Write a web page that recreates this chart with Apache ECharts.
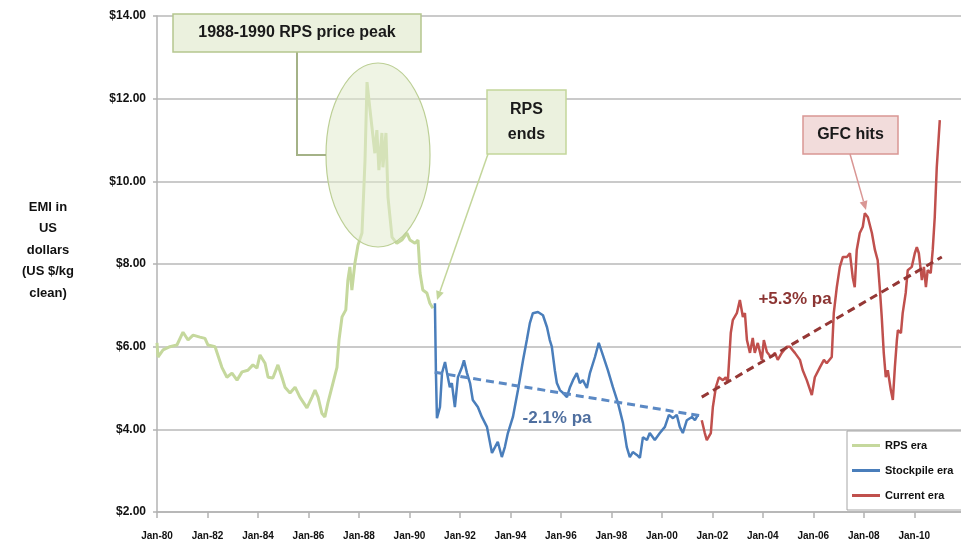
<!DOCTYPE html>
<html>
<head>
<meta charset="utf-8">
<title>EMI in US dollars</title>
<script src="https://cdn.jsdelivr.net/npm/echarts@6/dist/echarts.min.js"></script>
<style>
  html, body { margin: 0; padding: 0; background: #fff; }
  #chart { width: 961px; height: 547px; }
</style>
</head>
<body>
<div id="chart"></div>
<script>
// values: [year, US $/kg clean]
const rpsEra = [
  [1980.00, 6.09], [1980.04, 5.75], [1980.24, 5.92], [1980.51, 6.00], [1980.79, 6.04],
  [1981.03, 6.35], [1981.23, 6.16], [1981.43, 6.28], [1981.70, 6.23], [1981.90, 6.20],
  [1982.02, 6.04], [1982.30, 6.00], [1982.57, 5.50], [1982.77, 5.26], [1982.97, 5.36],
  [1983.17, 5.19], [1983.37, 5.39], [1983.60, 5.43], [1983.80, 5.56], [1983.96, 5.48],
  [1984.08, 5.80], [1984.28, 5.60], [1984.40, 5.26], [1984.59, 5.24], [1984.79, 5.56],
  [1984.95, 5.26], [1985.07, 5.02], [1985.27, 4.88], [1985.47, 5.02], [1985.66, 4.78],
  [1985.94, 4.52], [1986.14, 4.78], [1986.26, 4.95], [1986.38, 4.78], [1986.53, 4.39],
  [1986.65, 4.30], [1986.77, 4.64], [1986.97, 5.12], [1987.13, 5.50], [1987.21, 6.16],
  [1987.33, 6.72], [1987.48, 6.89], [1987.56, 7.60], [1987.64, 7.93], [1987.72, 7.37],
  [1987.84, 8.02], [1987.96, 8.45], [1988.12, 8.75], [1988.24, 10.50], [1988.32, 12.40],
  [1988.44, 11.72], [1988.63, 10.68], [1988.71, 11.24], [1988.79, 10.27], [1988.91, 11.17],
  [1988.95, 10.34], [1989.07, 11.17], [1989.15, 9.62], [1989.31, 8.65], [1989.50, 8.50],
  [1989.70, 8.58], [1989.90, 8.75], [1990.02, 8.58], [1990.22, 8.50], [1990.34, 8.58],
  [1990.42, 7.78], [1990.53, 7.37], [1990.69, 7.30], [1990.81, 7.05], [1990.93, 6.93]
];

const stockpileEra = [
  [1991.01, 7.05], [1991.05, 5.36], [1991.09, 4.27], [1991.21, 4.54], [1991.29, 5.36],
  [1991.41, 5.63], [1991.49, 5.36], [1991.60, 5.02], [1991.68, 5.12], [1991.80, 4.54],
  [1991.92, 5.26], [1992.08, 5.50], [1992.16, 5.67], [1992.28, 5.36], [1992.40, 5.12],
  [1992.51, 4.71], [1992.71, 4.54], [1992.87, 4.30], [1993.07, 4.06], [1993.27, 3.43],
  [1993.39, 3.57], [1993.50, 3.70], [1993.66, 3.33], [1993.78, 3.57], [1993.90, 3.91],
  [1994.10, 4.30], [1994.30, 4.95], [1994.50, 5.67], [1994.65, 6.16], [1994.77, 6.57],
  [1994.89, 6.81], [1995.09, 6.84], [1995.29, 6.76], [1995.45, 6.47], [1995.56, 6.16],
  [1995.64, 6.00], [1995.76, 5.43], [1995.84, 5.12], [1995.96, 4.95], [1996.08, 4.88],
  [1996.24, 4.78], [1996.36, 5.02], [1996.48, 5.19], [1996.63, 5.36], [1996.75, 5.12],
  [1996.87, 5.19], [1997.03, 5.00], [1997.15, 5.36], [1997.35, 5.75], [1997.50, 6.09],
  [1997.66, 5.80], [1997.86, 5.43], [1998.06, 5.02], [1998.26, 4.64], [1998.46, 4.15],
  [1998.61, 3.57], [1998.73, 3.33], [1998.85, 3.45], [1999.01, 3.38], [1999.13, 3.31],
  [1999.25, 3.81], [1999.41, 3.74], [1999.52, 3.91], [1999.72, 3.74], [1999.92, 3.91],
  [2000.12, 4.06], [2000.28, 4.35], [2000.44, 4.27], [2000.59, 4.35], [2000.71, 4.06],
  [2000.83, 3.91], [2000.99, 4.22], [2001.19, 4.30], [2001.31, 4.22], [2001.43, 4.35]
];

const currentEra = [
  [2001.58, 4.22], [2001.70, 3.91], [2001.78, 3.74], [2001.94, 3.91], [2002.02, 4.54],
  [2002.14, 5.02], [2002.26, 5.26], [2002.42, 5.19], [2002.53, 5.26], [2002.61, 5.12],
  [2002.73, 6.33], [2002.81, 6.64], [2002.97, 6.81], [2003.09, 7.13], [2003.21, 6.72],
  [2003.29, 6.81], [2003.37, 6.16], [2003.49, 5.85], [2003.60, 6.21], [2003.68, 5.85],
  [2003.80, 6.09], [2003.96, 5.68], [2004.04, 6.16], [2004.16, 5.87], [2004.32, 5.75],
  [2004.48, 5.85], [2004.59, 5.68], [2004.75, 5.85], [2004.95, 6.00], [2005.07, 6.00],
  [2005.27, 5.85], [2005.47, 5.68], [2005.58, 5.43], [2005.74, 5.19], [2005.94, 4.83],
  [2006.06, 5.26], [2006.26, 5.50], [2006.42, 5.68], [2006.53, 5.60], [2006.73, 5.75],
  [2006.81, 6.81], [2006.93, 7.44], [2007.05, 7.93], [2007.17, 8.17], [2007.33, 8.17],
  [2007.45, 8.26], [2007.56, 7.68], [2007.64, 7.44], [2007.72, 8.34], [2007.84, 8.75],
  [2007.96, 8.90], [2008.04, 9.23], [2008.16, 9.13], [2008.32, 8.75], [2008.44, 8.34],
  [2008.55, 8.09], [2008.63, 7.44], [2008.71, 6.72], [2008.79, 5.85], [2008.87, 5.26],
  [2008.95, 5.43], [2009.07, 4.95], [2009.15, 4.71], [2009.23, 5.50], [2009.31, 6.16],
  [2009.35, 6.40], [2009.47, 6.33], [2009.54, 6.81], [2009.66, 7.30], [2009.74, 7.85],
  [2009.90, 7.93], [2010.02, 8.26], [2010.10, 8.41], [2010.18, 8.26], [2010.30, 7.61],
  [2010.38, 7.93], [2010.46, 7.44], [2010.53, 7.85], [2010.65, 7.78], [2010.73, 8.34],
  [2010.81, 9.13], [2010.89, 10.34], [2011.01, 11.48]
];

// trend lines (-2.1% pa and +5.3% pa)
const stockpileTrend = [[1991.00, 5.38], [2001.50, 4.33]];
const currentTrend = [[2001.58, 4.78], [2011.09, 8.17]];

const seriesNames = ['RPS era', 'Stockpile era', 'Current era'];

const FONT = '"Liberation Sans", Arial, sans-serif';

// arrow = line + small triangle head
function arrow(x1, y1, x2, y2, color) {
  const a = Math.atan2(y2 - y1, x2 - x1);
  const L = 9, W = 4;
  const bx = x2 - L * Math.cos(a), by = y2 - L * Math.sin(a);
  return [
    { type: 'line', z: 100, shape: { x1: x1, y1: y1, x2: bx, y2: by },
      style: { stroke: color, lineWidth: 1.5 } },
    { type: 'polygon', z: 100,
      shape: { points: [[x2, y2], [bx + W * Math.sin(a), by - W * Math.cos(a)], [bx - W * Math.sin(a), by + W * Math.cos(a)]] },
      style: { fill: color } }
  ];
}

function box(x, y, w, h, fill, stroke, text, lineHeight) {
  return [
    { type: 'rect', z: 100, shape: { x: x, y: y, width: w, height: h },
      style: { fill: fill, stroke: stroke, lineWidth: 1.5 } },
    { type: 'text', z: 101, x: x + w / 2, y: y + h / 2,
      style: { text: text, fill: '#1a1a1a', font: 'bold 16px ' + FONT,
        align: 'center', verticalAlign: 'middle', lineHeight: lineHeight || 20 } }
  ];
}

const chart = echarts.init(document.getElementById('chart'));

const option = {
  animation: false,
  backgroundColor: '#fff',
  grid: { left: 157, right: 0, top: 16, bottom: 35 },
  xAxis: {
    type: 'value',
    min: 1980,
    max: 2011.85,
    interval: 2,
    axisLine: { lineStyle: { color: '#b3b3b3', width: 1.5 } },
    axisTick: { show: true, length: 6, lineStyle: { color: '#b3b3b3', width: 1.5 } },
    splitLine: { show: false },
    axisLabel: {
      margin: 19,
      showMaxLabel: false,
      color: '#111',
      fontWeight: 'bold',
      fontSize: 10,
      fontFamily: FONT,
      formatter: function (v) { return v % 2 === 0 ? 'Jan-' + String(v).slice(2) : ''; }
    }
  },
  yAxis: {
    type: 'value',
    min: 2,
    max: 14,
    interval: 2,
    axisLine: { show: true, lineStyle: { color: '#b3b3b3', width: 1.5 } },
    axisTick: { show: true, length: 4, lineStyle: { color: '#b3b3b3', width: 1.5 } },
    splitLine: { lineStyle: { color: '#b9b9b9', width: 1.5 } },
    axisLabel: {
      margin: 11,
      color: '#111',
      fontWeight: 'bold',
      fontSize: 12,
      fontFamily: FONT,
      formatter: function (v) { return '$' + v.toFixed(2); }
    }
  },
  legend: {
    data: seriesNames,
    orient: 'vertical',
    left: 847,
    top: 431,
    padding: [9, 14, 9, 5],
    icon: 'rect',
    itemWidth: 28,
    itemHeight: 3,
    itemGap: 14,
    backgroundColor: '#fff',
    borderColor: '#a6a6a6',
    borderWidth: 1,
    borderRadius: 0,
    textStyle: { color: '#111', fontWeight: 'bold', fontSize: 11, fontFamily: FONT }
  },
  series: [
    { name: seriesNames[0], type: 'line', data: rpsEra, symbol: 'none',
      lineStyle: { color: '#c5d89d', width: 3 }, itemStyle: { color: '#c5d89d' } },
    { name: seriesNames[1], type: 'line', data: stockpileEra, symbol: 'none',
      lineStyle: { color: '#4a7ebb', width: 2.5 }, itemStyle: { color: '#4a7ebb' } },
    { name: seriesNames[2], type: 'line', data: currentEra, symbol: 'none',
      lineStyle: { color: '#c0504d', width: 2.5 }, itemStyle: { color: '#c0504d' } },
    { name: 'stockpile trend', type: 'line', data: stockpileTrend, symbol: 'none', z: 3,
      lineStyle: { color: '#5b89c4', width: 3, type: [8, 5] } },
    { name: 'current trend', type: 'line', data: currentTrend, symbol: 'none', z: 3,
      lineStyle: { color: '#953735', width: 3, type: [8, 5] } }
  ]
};

chart.setOption(option);

// annotations
const graphics = [].concat(
  // y axis title
  [{ type: 'text', z: 100, x: 48, y: 250,
     style: { text: 'EMI in\nUS\ndollars\n(US $/kg\nclean)', fill: '#111',
       font: 'bold 13px ' + FONT, align: 'center', verticalAlign: 'middle', lineHeight: 21.5 } }],
  // ellipse round the peak
  [{ type: 'ellipse', z: 90, shape: { cx: 378, cy: 155, rx: 52, ry: 92 },
     style: { fill: 'rgba(225,235,205,0.55)', stroke: '#bccf95', lineWidth: 1.2 } }],
  // connector from the peak box to the ellipse
  [{ type: 'polyline', z: 99, shape: { points: [[297, 52], [297, 155], [326, 155]] },
     style: { stroke: '#a4b287', lineWidth: 2, fill: null } }],
  box(173, 14, 248, 38, '#ebf1de', '#b5c68f', '1988-1990 RPS price peak'),
  box(487, 90, 79, 64, '#ebf1de', '#c3d69b', 'RPS\nends', 25),
  arrow(488, 154, 437, 300, '#c3d69b'),
  box(803, 116, 95, 38, '#f2dcdb', '#d99694', 'GFC hits'),
  arrow(850, 154, 866, 210, '#d99694'),
  [{ type: 'text', z: 101, x: 557, y: 418,
     style: { text: '-2.1% pa', fill: '#4f6f9f', font: 'bold 17px ' + FONT,
       align: 'center', verticalAlign: 'middle' } },
   { type: 'text', z: 101, x: 795, y: 299,
     style: { text: '+5.3% pa', fill: '#8c3533', font: 'bold 17px ' + FONT,
       align: 'center', verticalAlign: 'middle' } }]
);

chart.setOption({ graphic: graphics });
</script>
</body>
</html>
